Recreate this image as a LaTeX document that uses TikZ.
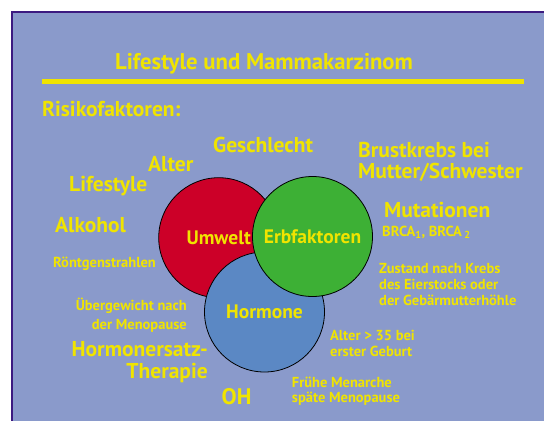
\documentclass[tikz,border=0pt]{standalone}
\usepackage{fontspec}
\setmainfont{PT Sans}
\definecolor{bgblue}{HTML}{8A9ACB}
\definecolor{rahmen}{HTML}{3C1A80}
\definecolor{gelb}{HTML}{F0E400}
\definecolor{rot}{HTML}{CC0028}
\definecolor{gruen}{HTML}{3DB035}
\definecolor{blau}{HTML}{5B88C4}
\begin{document}
\begin{tikzpicture}[x=1pt,y=-1pt,
  txt/.style={text=gelb,inner sep=0pt},
  gross/.style={txt,font=\fontsize{21.5}{21}\selectfont\bfseries},
  klein/.style={txt,font=\fontsize{14.5}{16}\selectfont\bfseries},
  kreis/.style={circle,draw=black,line width=0.8pt,minimum size=120pt,inner sep=0pt,
    text=gelb,font=\fontsize{19.5}{20}\selectfont\bfseries}]
\useasboundingbox (0,0) rectangle (544,421);
\fill[white] (0,0) rectangle (544,421);
\fill[rahmen] (11,11) rectangle (544,421);
\fill[bgblue] (13,13) rectangle (544,421);
\node[txt,anchor=base west,font=\fontsize{22.7}{24}\selectfont\bfseries] (titel) at (115,69) {Lifestyle und Mammakarzinom};
\draw[gelb,line width=5pt] (42,81.5) -- (524,81.5);
\node[gross,anchor=base west] (risiko) at (42,116) {Risikofaktoren:};
\node[kreis,fill=rot] (umwelt) at (218.7,237.7) {Umwelt};
\node[kreis,fill=blau] (hormone) at (264.5,312) {Hormone};
\node[kreis,fill=gruen] (erb) at (312.5,236.5) {Erbfaktoren};
\node[gross,anchor=base west] (geschlecht) at (213,152) {Geschlecht};
\node[gross,anchor=base west] (alter) at (148,171) {Alter};
\node[gross,anchor=base west] (lifestyle) at (69,191) {Lifestyle};
\node[gross,anchor=base west] (alkohol) at (55,232) {Alkohol};
\node[klein,anchor=base west] (roentgen) at (53,267) {Röntgenstrahlen};
\node[gross,anchor=base west,align=left] (brust) at (358,178) {Brustkrebs bei\\Mutter/Schwester};
\node[gross,anchor=base west] (mutation) at (384,217) {Mutationen};
\node[klein,anchor=base west] (brca) at (382,236) {BRCA\textsubscript{1}, BRCA\,\textsubscript{2}};
\node[klein,anchor=base west,align=left] (zustand) at (379,305) {Zustand nach Krebs\\des Eierstocks oder\\der Gebärmutterhöhle};
\node[klein,anchor=base east,align=right,font=\fontsize{14.5}{19.3}\selectfont\bfseries] (uebergewicht) at (187,329.3) {Übergewicht nach\\der Menopause};
\node[gross,anchor=base east,align=right,font=\fontsize{21.5}{21.5}\selectfont\bfseries] (ersatz) at (208,378) {Hormonersatz-\\Therapie};
\node[klein,anchor=base west,align=left,font=\fontsize{14.5}{16.7}\selectfont\bfseries] (geburt) at (330,356.7) {Alter > 35 bei\\erster Geburt};
\node[txt,anchor=base west,font=\fontsize{22.5}{24}\selectfont\bfseries] (oh) at (221.5,404) {OH};
\node[klein,anchor=base west,align=left,font=\fontsize{14.5}{15}\selectfont\bfseries] (menarche) at (291.7,402.3) {Frühe Menarche\\späte Menopause};
\end{tikzpicture}
\end{document}
